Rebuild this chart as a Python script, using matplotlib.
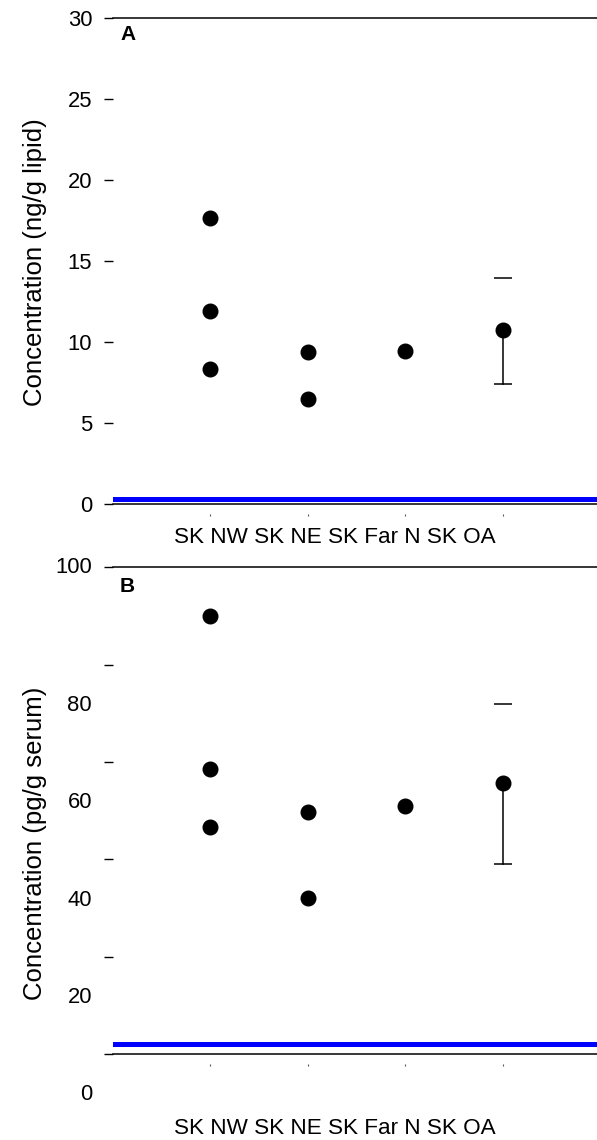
import matplotlib
matplotlib.use("Agg")
import matplotlib.pyplot as plt
from matplotlib.transforms import ScaledTranslation

plt.rcParams['font.family'] = ['Liberation Sans', 'DejaVu Sans']

# x positions of the four sites
sites = ['SK NW', 'SK NE', 'SK Far N', 'SK OA']
site_pos = [1, 2, 3, 4]

# Panel A: ng/g lipid
a_nw = [17.66, 11.91, 8.31]
a_ne = [9.36, 6.48]
a_farn = [9.44]
a_oa_mean = 10.73
a_oa_low = 7.38
a_oa_high = 13.96
a_lod = 0.31
a_ticks = [0, 5, 10, 15, 20, 25, 30]

# Panel B: pg/g serum
b_nw = [90.06, 58.52, 46.73]
b_ne = [49.8, 32.1]
b_farn = [50.98]
b_oa_mean = 55.65
b_oa_low = 39.08
b_oa_high = 71.87
b_lod = 2.05
b_ticks = [0, 20, 40, 60, 80, 100]

W, H = 597, 1140
fig = plt.figure(figsize=(W / 100, H / 100), dpi=100)


def make_axes(top_px, bottom_px):
    left, right = 113, 600
    return fig.add_axes([left / W, 1 - bottom_px / H, (right - left) / W, (bottom_px - top_px) / H])


def draw_panel(ax, nw, ne, farn, oa_mean, oa_low, oa_high, lod, ymax):
    ax.set_xlim(0, 5)
    ax.set_ylim(0, ymax)
    ax.axhline(lod, color='#0000ff', lw=3.6, zorder=1)
    ax.plot([site_pos[0]] * len(nw), nw, 'o', color='black', ms=10.5, zorder=3)
    ax.plot([site_pos[1]] * len(ne), ne, 'o', color='black', ms=10.5, zorder=3)
    ax.plot([site_pos[2]] * len(farn), farn, 'o', color='black', ms=10.5, zorder=3)
    ax.plot(site_pos[3], oa_mean, 'o', color='black', ms=10.5, zorder=3)
    # lower whisker only, caps at both ends
    ax.plot([site_pos[3], site_pos[3]], [oa_mean, oa_low], color='black', lw=1.1, zorder=2)
    ax.plot([site_pos[3], site_pos[3]], [oa_low, oa_high], '_', color='black', ms=12.5, mew=1.1, zorder=2)

    for s in ['left', 'right', 'bottom']:
        ax.spines[s].set_visible(False)
    ax.spines['top'].set_linewidth(1.1)
    ax.spines['bottom'].set_position(('outward', 7))
    ax.plot([0, 1], [0, 0], color='black', lw=1.1, transform=ax.get_yaxis_transform(), clip_on=False)

    ax.set_xticks(site_pos)
    ax.tick_params(axis='x', direction='out', length=1.2, width=0.8, color='#555555', labelbottom=False)
    ax.tick_params(axis='y', direction='out', length=6.5, width=1.0, pad=8.5, labelsize=15.8)


# Panel A
axA = make_axes(17.7, 504)
draw_panel(axA, a_nw, a_ne, a_farn, a_oa_mean, a_oa_low, a_oa_high, a_lod, 30)
axA.set_yticks(a_ticks)
axA.set_yticklabels([str(t) for t in a_ticks])

# Panel B: labels below 100 sit lower than their tick marks
axB = make_axes(567.3, 1054.3)
draw_panel(axB, b_nw, b_ne, b_farn, b_oa_mean, b_oa_low, b_oa_high, b_lod, 100)
axB.set_yticks(b_ticks)
axB.set_yticklabels([])
for t in b_ticks:
    dy = 0 if t == 100 else -40.5
    tr = axB.get_yaxis_transform() + ScaledTranslation(-21 / 100, dy / 100, fig.dpi_scale_trans)
    axB.text(0, t, str(t), transform=tr, ha='right', va='center', fontsize=15.8)

# panel letters
fig.text(120 / W, 1 - 35 / H, 'A', fontsize=15, fontweight='bold', va='center', ha='left')
fig.text(120 / W, 1 - 586 / H, 'B', fontsize=15, fontweight='bold', va='center', ha='left')

# category text and axis titles
xtext = ' '.join(sites)
fig.text(335 / W, 1 - 543 / H, xtext, fontsize=16.2, ha='center', va='baseline')
fig.text(335 / W, 1 - 1134 / H, xtext, fontsize=16.2, ha='center', va='baseline')
fig.text(35 / W, 1 - 262 / H, 'Concentration (ng/g lipid)', fontsize=18.5, rotation=90,
         ha='center', va='center')
fig.text(35 / W, 1 - 843 / H, 'Concentration (pg/g serum)', fontsize=18.5, rotation=90,
         ha='center', va='center')

fig.savefig('out.png', dpi=100)
